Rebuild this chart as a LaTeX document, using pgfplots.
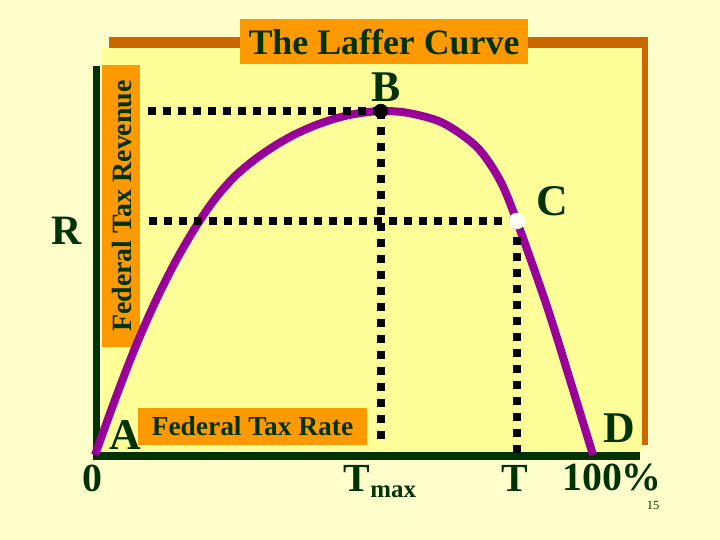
\documentclass[border=0pt]{standalone}
\usepackage{fontspec}
\setmainfont{Liberation Serif}
\usepackage{pgfplots}
\pgfplotsset{compat=1.18}
\definecolor{slidebg}{RGB}{255,255,204}
\definecolor{panel}{RGB}{255,255,153}
\definecolor{orng}{RGB}{255,153,0}
\definecolor{brwn}{RGB}{204,102,0}
\definecolor{dkgreen}{RGB}{0,51,0}
\definecolor{purp}{RGB}{153,0,153}
\newcommand{\fs}[1]{\fontsize{#1}{#1}\selectfont}
\begin{document}
\begin{tikzpicture}
\useasboundingbox (0bp,0bp) rectangle (720bp,540bp);
\fill[slidebg] (0bp,0bp) rectangle (720bp,540bp);
% panel shadow and panel
\fill[brwn] (109bp,95bp) rectangle (648bp,503bp);
\fill[panel] (102bp,88bp) rectangle (642bp,492bp);
% title box
\fill[orng] (240bp,476bp) rectangle (528bp,521bp);
\node[text=dkgreen,font=\fs{36}\bfseries] at (384bp,498bp) {The Laffer Curve};
% axis lines
\draw[dkgreen,line width=7.5bp] (96.5bp,80bp) -- (96.5bp,474bp);
\draw[dkgreen,line width=8bp] (93bp,84bp) -- (640bp,84bp);
% y label box
\fill[orng] (102bp,193bp) rectangle (140bp,475bp);
\node[text=dkgreen,font=\fs{28}\bfseries,rotate=90] at (121.5bp,334bp) {Federal Tax Revenue};
% x label box
\fill[orng] (138bp,95bp) rectangle (367bp,132bp);
\node[text=dkgreen,font=\fs{27.5}\bfseries] at (252.5bp,113.5bp) {Federal Tax Rate};
\begin{axis}[
  at={(95bp,85bp)}, anchor=south west,
  scale only axis, width=498bp, height=344bp,
  xmin=0, xmax=100, ymin=0, ymax=100,
  hide axis, clip=false,
]
% Laffer curve
\addplot[purp, line width=8bp, smooth, tension=0.5] coordinates {
 (0,0) (4,16) (8,31) (12,44.2) (16,55.8) (20,65.8) (24,74.3) (28,80.9)
 (32,85.8) (36,89.8) (40,93.1) (44,95.7) (48,97.7) (52,99.1) (57.4,100)
 (63,99.4) (69.9,96.5) (76.7,89.5) (81.3,79.9) (84.7,68)
 (90.8,43) (96,18.9) (100,0)
};
% guide lines
\addplot[black, line width=8bp, dash pattern=on 8bp off 7bp] coordinates {(57.4,100) (9.5,100)};
\addplot[black, line width=8bp, dash pattern=on 8bp off 8bp] coordinates {(57.4,100) (57.4,3.5)};
\addplot[black, line width=8bp, dash pattern=on 8bp off 7bp] coordinates {(84.7,68) (10.5,68)};
\addplot[black, line width=8bp, dash pattern=on 8bp off 8bp] coordinates {(84.7,68) (84.7,0)};
% points B and C
\addplot[only marks, mark=*, mark size=7bp, mark options={fill=black, draw=black}] coordinates {(57.4,100)};
\addplot[only marks, mark=*, mark size=8bp, mark options={fill=white, draw=white}] coordinates {(84.7,68)};
\end{axis}
% point letters
\node[anchor=base,text=dkgreen,font=\fs{44}\bfseries] at (386bp,438bp) {B};
\node[anchor=base,text=dkgreen,font=\fs{44}\bfseries] at (552bp,324bp) {C};
\node[anchor=base,text=dkgreen,font=\fs{44}\bfseries] at (619bp,97bp) {D};
\node[anchor=base,text=dkgreen,font=\fs{44}\bfseries] at (125bp,90bp) {A};
\node[anchor=base,text=dkgreen,font=\fs{42}\bfseries] at (67bp,295bp) {R};
% tick labels
\node[anchor=base,text=dkgreen,font=\fs{40}\bfseries] at (92bp,48bp) {0};
\node[anchor=base,text=dkgreen,font=\fs{40}\bfseries] at (380bp,48bp) {T\raisebox{-6bp}{\fs{25}max}};
\node[anchor=base,text=dkgreen,font=\fs{40}\bfseries] at (515bp,48bp) {T};
\node[anchor=base,text=dkgreen,font=\fs{40}\bfseries] at (612bp,49bp) {100\%};
\node[anchor=base,text=dkgreen,font=\fs{12.5}] at (653bp,31bp) {15};
\end{tikzpicture}
\end{document}
